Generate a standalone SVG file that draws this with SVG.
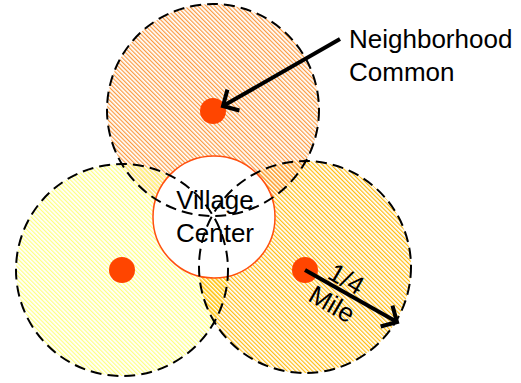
<svg xmlns="http://www.w3.org/2000/svg" width="521" height="383" viewBox="0 0 521 383">
<style>
.outline{fill:none;stroke:#000;stroke-width:2;stroke-dasharray:11 6}
.dot{fill:#FF4500}
.lbl{font-family:"Liberation Sans",Arial,sans-serif;font-size:26px;fill:#000}
.arrow{fill:none;stroke:#000;stroke-width:4;marker-end:url(#chev)}
</style>
<defs>
<pattern id="hOrange" width="3" height="3" patternUnits="userSpaceOnUse" patternTransform="rotate(-45)">
<rect x="0" y="0" width="1.2" height="3" fill="#FA9A40"/>
</pattern>
<pattern id="hYellow" width="3" height="3" patternUnits="userSpaceOnUse" patternTransform="rotate(-45)">
<rect x="0" y="0" width="1.2" height="3" fill="#FFFF80"/>
</pattern>
<pattern id="hGold" width="3" height="3" patternUnits="userSpaceOnUse" patternTransform="rotate(-45)">
<rect x="0" y="0" width="1.2" height="3" fill="#FFBB10"/>
</pattern>
<clipPath id="clipLeft"><circle cx="122" cy="270" r="106"/></clipPath>
<marker id="chev" markerUnits="userSpaceOnUse" markerWidth="30" markerHeight="30" refX="0" refY="0" viewBox="-20 -15 30 30" orient="auto" overflow="visible">
<path d="M-12,-12 L0,0 L-12,12" fill="none" stroke="#000" stroke-width="4"/>
</marker>
</defs>
<rect width="521" height="383" fill="#fff"/>
<g id="fills">
<circle cx="305" cy="267" r="106" fill="url(#hGold)"/>
<circle cx="213" cy="110" r="106" fill="url(#hOrange)"/>
<circle cx="122" cy="270" r="106" fill="url(#hYellow)"/>
<circle cx="305" cy="267" r="106" fill="url(#hGold)" clip-path="url(#clipLeft)"/>
</g>
<g id="village-center">
<circle cx="214" cy="217" r="61" fill="#fff" stroke="#FF5010" stroke-width="1.5"/>
</g>
<g id="neighborhood-top">
<circle class="outline" cx="213" cy="110" r="106"/>
<circle class="dot" cx="213" cy="111" r="13"/>
</g>
<g id="neighborhood-left">
<circle class="outline" cx="122" cy="270" r="106"/>
<circle class="dot" cx="122" cy="270" r="13"/>
</g>
<g id="neighborhood-right">
<circle class="outline" cx="305" cy="267" r="106"/>
<circle class="dot" cx="305" cy="270" r="13"/>
</g>
<g id="village-label">
<text class="lbl" x="215" y="209" text-anchor="middle">Village</text>
<text class="lbl" x="215" y="242" text-anchor="middle">Center</text>
</g>
<g id="connectors">
<line class="arrow" x1="340" y1="39" x2="223" y2="106"/>
<line class="arrow" x1="305" y1="270" x2="397" y2="322"/>
</g>
<g id="neighborhood-label">
<text class="lbl" x="349" y="48">Neighborhood</text>
<text class="lbl" x="349" y="81">Common</text>
</g>
<g id="radius-label" transform="translate(339,292) rotate(30)">
<text class="lbl" x="0" y="-6" text-anchor="middle" font-size="25">1/4</text>
<text class="lbl" x="0" y="23" text-anchor="middle" font-size="25">Mile</text>
</g>
</svg>
